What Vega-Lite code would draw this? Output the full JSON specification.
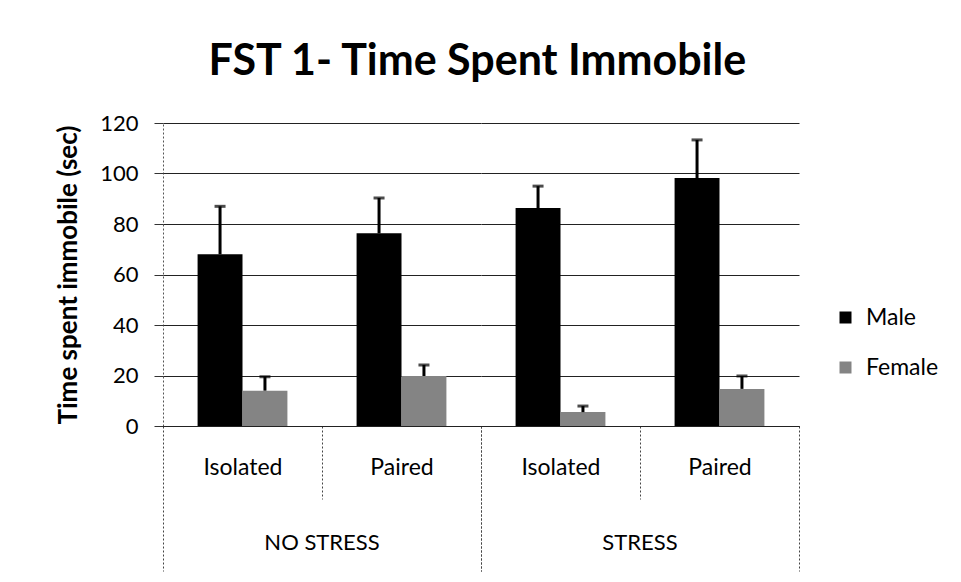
{
  "$schema": "https://vega.github.io/schema/vega-lite/v6.json",
  "background": "white",
  "padding": {"left": 55, "top": 41, "right": 5, "bottom": 5},
  "title": {"text": "FST 1- Time Spent Immobile", "font": "Lato", "fontSize": 43, "fontWeight": "bold", "color": "black", "anchor": "middle", "offset": 28, "dx": -20},
  "data": {"values": [
    {"stress": "NO STRESS", "housing": "Isolated", "sex": "Male", "value": 68, "hi": 87},
    {"stress": "NO STRESS", "housing": "Isolated", "sex": "Female", "value": 14, "hi": 19.5},
    {"stress": "NO STRESS", "housing": "Paired", "sex": "Male", "value": 76.3, "hi": 90.3},
    {"stress": "NO STRESS", "housing": "Paired", "sex": "Female", "value": 19.8, "hi": 24.2},
    {"stress": "STRESS", "housing": "Isolated", "sex": "Male", "value": 86.3, "hi": 95},
    {"stress": "STRESS", "housing": "Isolated", "sex": "Female", "value": 5.5, "hi": 7.9},
    {"stress": "STRESS", "housing": "Paired", "sex": "Male", "value": 98.2, "hi": 113.3},
    {"stress": "STRESS", "housing": "Paired", "sex": "Female", "value": 14.7, "hi": 19.8}
  ]},
  "spacing": 0,
  "facet": {"column": {"field": "stress", "type": "nominal", "sort": ["NO STRESS", "STRESS"],
    "header": {"title": null, "labelOrient": "bottom", "labelFont": "Lato", "labelFontSize": 22, "labelColor": "black", "labelPadding": -39}}},
  "spec": {
    "width": 318,
    "height": 303,
    "encoding": {
      "x": {"field": "housing", "type": "nominal", "sort": ["Isolated", "Paired"],
        "scale": {"paddingInner": 0, "paddingOuter": 0},
        "axis": {"title": null, "labelAngle": 0, "tickBand": "extent", "labelFont": "Lato", "labelFontSize": 23, "labelColor": "black",
          "domainColor": "black", "tickDash": [2, 2], "tickWidth": 1, "tickColor": "#444",
          "tickSize": {"condition": {"test": "datum.value === 'Isolated'", "value": 73}, "value": 145},
          "labelPadding": {"condition": {"test": "datum.value === 'Isolated'", "value": -43}, "value": -115}}},
      "xOffset": {"field": "sex", "type": "nominal", "sort": ["Male", "Female"], "scale": {"paddingInner": 0, "paddingOuter": 0.77}}
    },
    "layer": [
      {"mark": {"type": "bar"},
        "encoding": {
          "y": {"field": "value", "type": "quantitative", "scale": {"domain": [0, 120]},
            "axis": {"title": "Time spent immobile (sec)", "titleFont": "Lato", "titleFontSize": 26, "titleFontWeight": "bold", "titleColor": "black", "titlePadding": 18,
              "values": [0, 20, 40, 60, 80, 100, 120], "labelFont": "Lato", "labelFontSize": 22, "labelColor": "black", "labelPadding": 16,
              "tickSize": 9, "tickColor": "#333", "domainColor": "#555", "domainDash": [2, 2], "gridColor": "#222", "gridWidth": 1}},
          "color": {"field": "sex", "type": "nominal", "sort": ["Male", "Female"],
            "scale": {"domain": ["Male", "Female"], "range": ["#000000", "#848484"]},
            "legend": {"title": null, "orient": "none", "legendX": 671, "legendY": 183, "symbolType": "square", "symbolSize": 144,
              "labelFont": "Lato", "labelFontSize": 23, "labelColor": "black", "rowPadding": 26, "labelOffset": 9}}
        }},
      {"mark": {"type": "rule", "color": "black", "strokeWidth": 3},
        "encoding": {"y": {"field": "value", "type": "quantitative"}, "y2": {"field": "hi"}}},
      {"mark": {"type": "tick", "color": "black", "thickness": 3, "size": 11},
        "encoding": {"y": {"field": "hi", "type": "quantitative"}}}
    ]
  },
  "config": {"view": {"stroke": null}}
}
